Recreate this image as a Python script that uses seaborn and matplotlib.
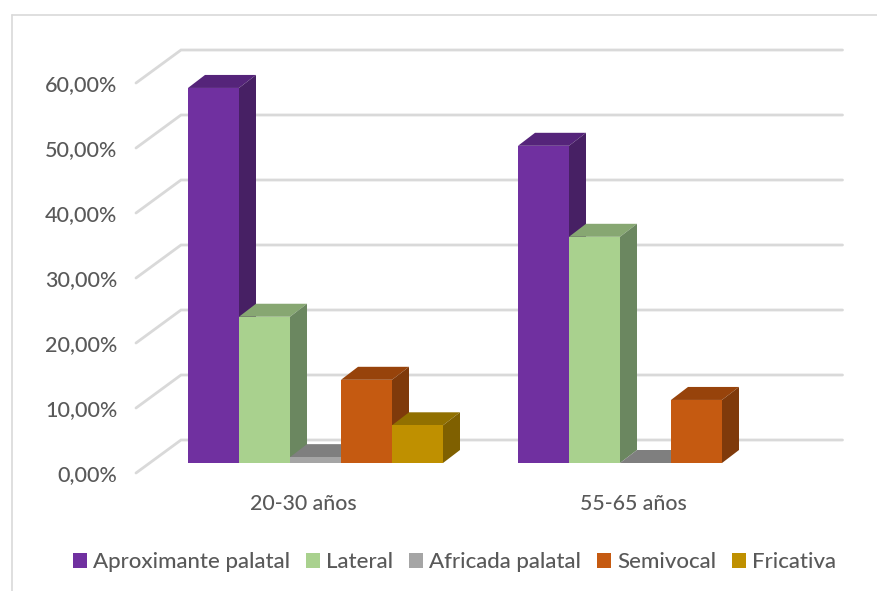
import matplotlib
matplotlib.use("Agg")
import matplotlib.pyplot as plt
from matplotlib.lines import Line2D
from matplotlib.patches import Patch, Polygon
from matplotlib.transforms import ScaledTranslation
import numpy as np
import pandas as pd
import seaborn as sns

# Share of each realisation per age group (%)
edades = ["20-30 años", "55-65 años"]
sonidos = ["Aproximante palatal", "Lateral", "Africada palatal", "Semivocal", "Fricativa"]
grupo_joven = [57.7, 22.5, 0.9, 12.8, 5.8]
grupo_mayor = [48.8, 34.8, 0.0, 9.7, np.nan]
marcas_eje = [0, 10, 20, 30, 40, 50, 60]
etiquetas_eje = ["0,00%", "10,00%", "20,00%", "30,00%", "40,00%", "50,00%", "60,00%"]

# Face colours: front, top, side
frente = ["#7030A0", "#A9D18E", "#A5A5A5", "#C55A11", "#BF9000"]
tapa = ["#55247A", "#87A772", "#7F7F7F", "#97430B", "#917000"]
lado = ["#472064", "#6B8760", "#6E6E6E", "#7F3A0B", "#7F6000"]
rejilla = "#D9D9D9"
texto = "#595959"

W, H = 877, 591
SLOT = 330.0   # pixels per category
PX_Y = 6.5     # pixels per percentage point

sns.set_theme(style="white")
plt.rcParams["font.family"] = ["Lato", "DejaVu Sans"]
plt.rcParams["font.weight"] = "medium"

fig = plt.figure(figsize=(W / 100, H / 100), dpi=100, facecolor="white")
ax = fig.add_axes([150.5 / W, (H - 463) / H, 2 * SLOT / W, 60 * PX_Y / H])
ax.patch.set_alpha(0)

tabla = pd.DataFrame({
    "Edad": np.repeat(edades, len(sonidos)),
    "Sonido": sonidos * len(edades),
    "Porcentaje": grupo_joven + grupo_mayor,
})
sns.barplot(data=tabla, x="Edad", y="Porcentaje", hue="Sonido", hue_order=sonidos,
            palette=frente, width=5 * 51 / SLOT, gap=0, saturation=1,
            linewidth=0, legend=False, ax=ax, zorder=3)

# Oblique offsets expressed in data units
prof_x, prof_y = 17 / SLOT, 13 / PX_Y
atras_x, atras_y = 30.5 / SLOT, 23 / PX_Y
delante_x, delante_y = -14.5 / SLOT, -10 / PX_Y

ax.set_xlim(-0.5, 1.5)
ax.set_ylim(0, 60)

# Back wall and side wall gridlines
for v in marcas_eje:
    ax.plot([delante_x - 0.5, atras_x - 0.5, 1.5 + 32 / SLOT],
            [v + delante_y, v + atras_y, v + atras_y],
            color=rejilla, lw=2.0, clip_on=False, zorder=1, solid_joinstyle="miter")

# Extrude every bar into a box, left to right so later bars overlap earlier sides
for i, contenedor in enumerate(ax.containers):
    for barra in contenedor:
        h = barra.get_height()
        if np.isnan(h):
            continue
        x0, x1 = barra.get_x(), barra.get_x() + barra.get_width()
        z = 3 + 2 * i
        barra.set_zorder(z + 1)
        barra.set_clip_on(False)
        ax.add_patch(Polygon([(x0, h), (x1, h), (x1 + prof_x, h + prof_y), (x0 + prof_x, h + prof_y)],
                             closed=True, fc=tapa[i], ec="none", zorder=z, clip_on=False))
        ax.add_patch(Polygon([(x1, 0), (x1 + prof_x, prof_y), (x1 + prof_x, h + prof_y), (x1, h)],
                             closed=True, fc=lado[i], ec="none", zorder=z, clip_on=False))

ax.set_xlim(-0.5, 1.5)
ax.set_ylim(0, 60)
sns.despine(ax=ax, left=True, bottom=True)
ax.set_xlabel("")
ax.set_ylabel("")
ax.set_yticks(marcas_eje, etiquetas_eje)
ax.tick_params(axis="y", length=0, pad=24, labelsize=15.5, labelcolor=texto)
ax.tick_params(axis="x", length=0, pad=22, labelsize=15.3, labelcolor=texto)
baja_y = ScaledTranslation(0, -10.5 / 100, fig.dpi_scale_trans)
for etiqueta in ax.get_yticklabels():
    etiqueta.set_transform(etiqueta.get_transform() + baja_y)
izquierda_x = ScaledTranslation(-12.5 / 100, 0, fig.dpi_scale_trans)
for etiqueta in ax.get_xticklabels():
    etiqueta.set_transform(etiqueta.get_transform() + izquierda_x)

# Legend along the bottom
asas = [Patch(fc=c, ec="none", label=s) for c, s in zip(frente, sonidos)]
fig.legend(handles=asas, loc="center", bbox_to_anchor=(454.5 / W, (H - 562.5) / H), ncol=5,
           frameon=False, fontsize=16, labelcolor=texto, handlelength=0.63, handleheight=0.63,
           handletextpad=0.27, columnspacing=0.72, borderpad=0, borderaxespad=0)

# Chart area border, running off the right and bottom edges
for xs, ys in [([11.5 / W, 11.5 / W], [0, (H - 14.5) / H]),
               ([11.5 / W, 1], [(H - 14.5) / H, (H - 14.5) / H])]:
    fig.add_artist(Line2D(xs, ys, color=rejilla, lw=1.2))

fig.savefig("out.png", dpi=100, facecolor="white")
